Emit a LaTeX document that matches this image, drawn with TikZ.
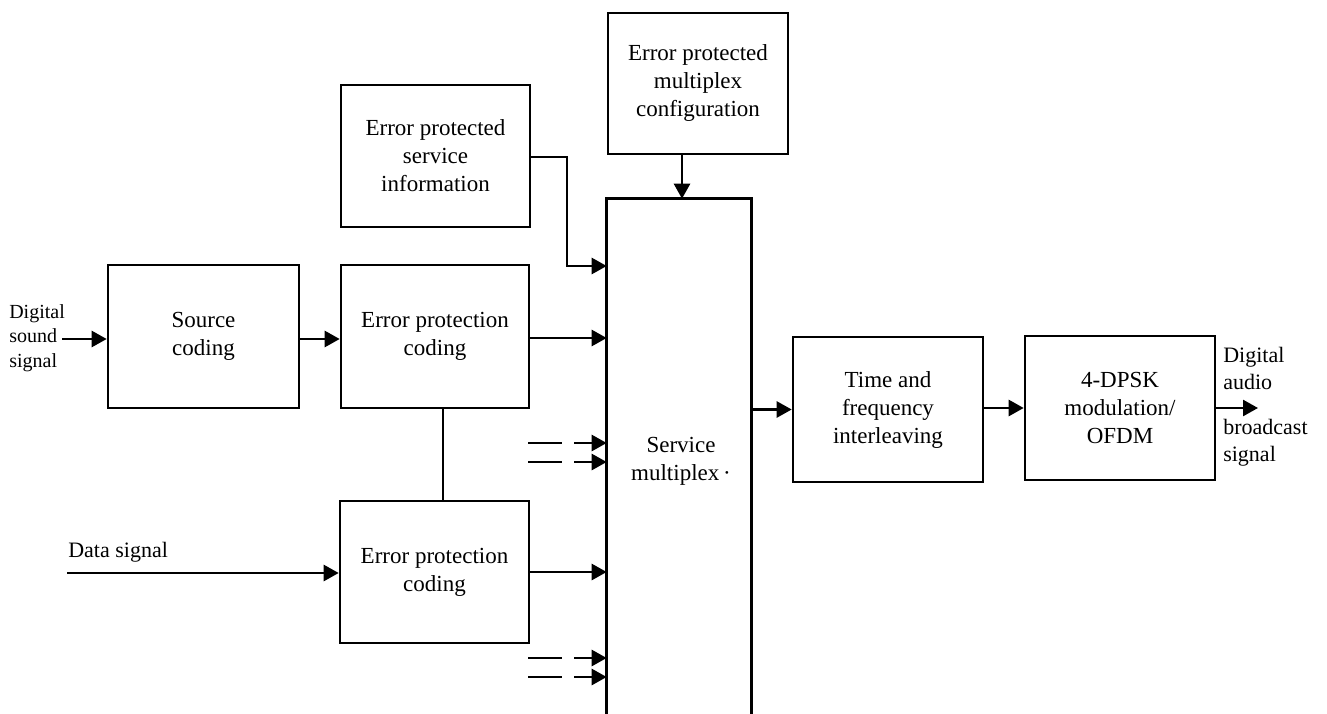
\documentclass[tikz,border=0pt]{standalone}
\usepackage{fontspec}
\setmainfont{Liberation Serif}
\usetikzlibrary{arrows.meta,calc}
\begin{document}
\begin{tikzpicture}[x=1pt,y=-1pt,
  line width=2.6pt,
  every node/.style={font=\fontsize{23}{28}\selectfont},
  blk/.style={draw, rectangle, inner sep=0pt, align=center},
  arr/.style={-{Triangle[length=15pt,width=16pt]}},
  sig/.style={align=left, inner sep=0pt, font=\fontsize{22}{25}\selectfont}]
\useasboundingbox (0,0) rectangle (1327,714);

% blocks
\node[blk, minimum width=180pt, minimum height=141pt] (cfg) at (698,83.5)
  {Error protected\\multiplex\\configuration};
\node[blk, minimum width=189pt, minimum height=142pt] (esi) at (435.5,156)
  {Error protected\\service\\information};
\node[blk, minimum width=191pt, minimum height=143pt] (src) at (203.5,336.5)
  {Source\\coding};
\node[blk, minimum width=188pt, minimum height=143pt] (epc1) at (435,336.5)
  {Error protection\\coding};
\node[blk, minimum width=189pt, minimum height=142pt] (epc2) at (434.5,572)
  {Error protection\\coding};
\node[blk, minimum width=190pt, minimum height=145pt] (tfi) at (888,409.5)
  {Time and\\frequency\\interleaving};
\node[blk, minimum width=190pt, minimum height=144pt] (mod) at (1120,408)
  {4-DPSK\\modulation/\\OFDM};

% service multiplex: open towards the bottom edge
\node[rectangle, inner sep=0pt, minimum width=142pt, minimum height=514pt] (mux) at (679,457) {};
\draw (mux.south west) -- (mux.north west) -- (mux.north east) -- (mux.south east);
\node[align=center, inner sep=0pt] (muxlbl) at (681,461) {Service\\multiplex\,·};

% inputs and outputs
\node[sig, anchor=west, font=\fontsize{20}{24.5}\selectfont] (dss) at (8,338) {Digital\\sound\\signal};
\coordinate (dssout) at (62,339);
\node[sig, anchor=base west] (dat) at (67,557) {Data signal};
\coordinate (datin) at (67,573);
\node[sig, anchor=west, font=\fontsize{22}{27}\selectfont] (dab1) at (1222,368) {Digital\\audio};
\node[sig, anchor=west, font=\fontsize{22}{27}\selectfont] (dab2) at (1222,443) {broadcast\\signal};
\coordinate (out) at (1258,408);

% connectors
\draw[arr] (dssout) -- (dssout -| src.west);
\draw[arr] (src.east |- 0,339) -- (epc1.west |- 0,339);
\draw[arr] (epc1.east |- 0,338) -- (mux.west |- 0,338);
\draw[arr] (datin) -- (datin -| epc2.west);
\draw[arr] (epc2.east) -- (epc2.east -| mux.west);
\draw (epc1.south -| 443,0) -- (epc2.north -| 443,0);
\coordinate (esibend) at (567,157);
\draw[arr] (esi.east |- esibend) -- (esibend) |- (mux.west |- 0,266);
\draw[arr] (cfg.south -| 682,0) -- (mux.north -| 682,0);
\draw[arr] (mux.east |- tfi.west) -- (tfi.west);
\draw[arr] (tfi.east |- mod.west) -- (mod.west);
\draw[arr] (mod.east) -- (out);

% further inputs, drawn as interrupted arrows
\foreach \yy/\nm in {443/a,462/b,658/c,677/d}{
  \coordinate (g\nm1) at (528,\yy);
  \coordinate (g\nm2) at (562,\yy);
  \coordinate (g\nm3) at (574,\yy);
  \draw (g\nm1) -- (g\nm2);
  \draw[arr] (g\nm3) -- (g\nm3 -| mux.west);
}
\end{tikzpicture}
\end{document}
